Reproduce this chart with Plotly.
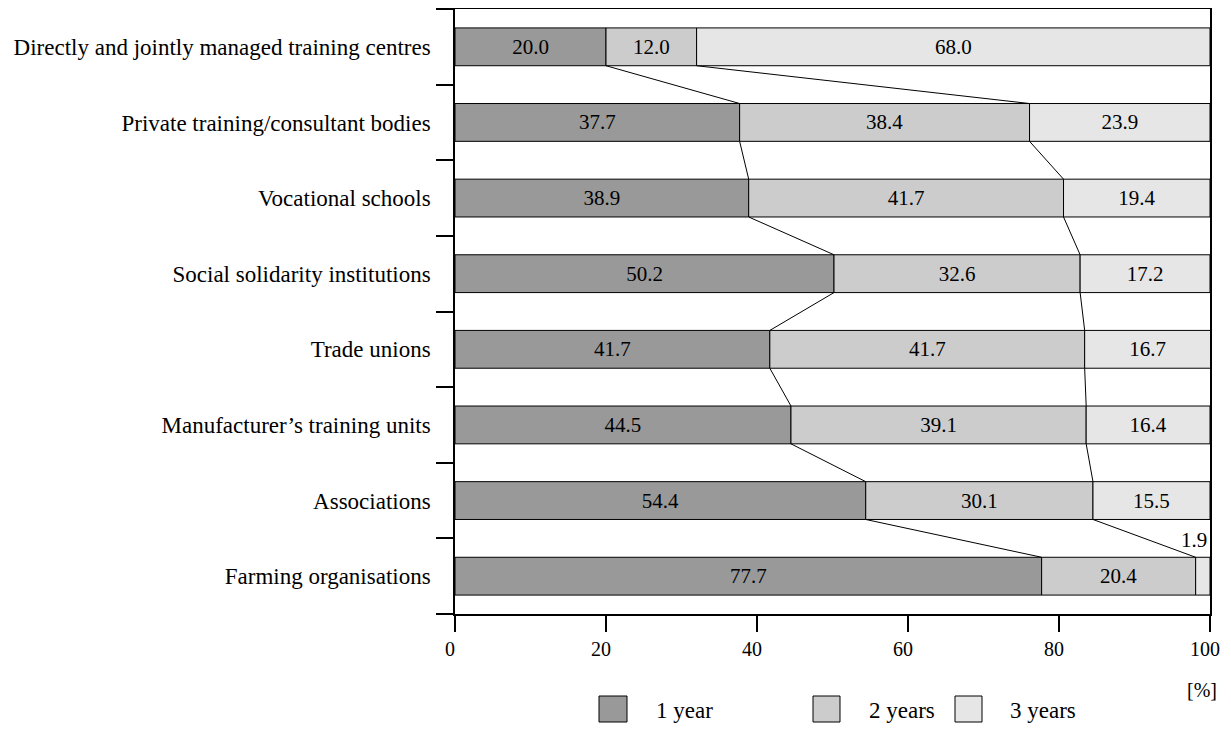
import plotly.graph_objects as go

categories = [
    "Directly and jointly managed training centres",
    "Private training/consultant bodies",
    "Vocational schools",
    "Social solidarity institutions",
    "Trade unions",
    "Manufacturer’s training units",
    "Associations",
    "Farming organisations",
]
one_year = [20.0, 37.7, 38.9, 50.2, 41.7, 44.5, 54.4, 77.7]
two_years = [12.0, 38.4, 41.7, 32.6, 41.7, 39.1, 30.1, 20.4]
three_years = [68.0, 23.9, 19.4, 17.2, 16.7, 16.4, 15.5, 1.9]
series_names = ["1 year", "2 years", "3 years"]
colors = ["#999999", "#cccccc", "#e6e6e6"]
x_ticks = [0, 20, 40, 60, 80, 100]

FONT = "'Liberation Serif', 'Times New Roman', 'DejaVu Serif', serif"
OFF = 8  # page body margin
W, H = 1231 - 2 * OFF, 731 - 2 * OFF   # avoid page scrollbars
PLOT_X0, PLOT_X1, PLOT_Y0, PLOT_Y1 = 455, 1210, 9, 614  # screen pixels
L, T = PLOT_X0 - OFF, PLOT_Y0 - OFF
R, B = W - (PLOT_X1 - OFF), H - (PLOT_Y1 - OFF)
PW, PH = W - L - R, H - T - B

def px(xs):
    return (xs - OFF - L) / PW

def py(ys):
    return (H - B - (ys - OFF)) / PH

pos = list(range(len(categories)))
bar_w = 0.5

fig = go.Figure()
series = [one_year, two_years, three_years]
base = [0.0] * len(categories)
for name, vals, col in zip(series_names, series, colors):
    txt = [f"{v:.1f}" if v >= 5 else "" for v in vals]
    fig.add_trace(go.Bar(
        x=vals, y=pos, base=list(base), orientation="h", width=bar_w,
        name=name, marker=dict(color=col, line=dict(color="black", width=1)),
        text=txt, textposition="inside", insidetextanchor="middle",
        textfont=dict(family=FONT, size=21, color="black"),
        textangle=0, constraintext="none", showlegend=False,
        hoverinfo="x+y",
    ))
    base = [b + v for b, v in zip(base, vals)]

# connector lines between consecutive bars (cumulative of series 1 and 2)
cum1 = list(one_year)
cum2 = [a + b for a, b in zip(one_year, two_years)]
for cum in (cum1, cum2):
    xs, ys = [], []
    for i in range(len(categories) - 1):
        xs += [cum[i], cum[i + 1], None]
        ys += [pos[i] + bar_w / 2, pos[i + 1] - bar_w / 2, None]
    fig.add_trace(go.Scatter(x=xs, y=ys, mode="lines",
                             line=dict(color="black", width=1),
                             showlegend=False, hoverinfo="skip"))

annotations = []
for i, v in enumerate(three_years):
    if v < 5:
        annotations.append(dict(x=100, y=pos[i] - bar_w / 2, xref="x", yref="y",
                                text=f"{v:.1f}", showarrow=False, xanchor="right",
                                yanchor="bottom", xshift=-1, yshift=3,
                                font=dict(family=FONT, size=21, color="black")))

annotations.append(dict(x=100, y=py(690), xref="x", yref="paper", text="[%]",
                        showarrow=False, xanchor="center", yanchor="middle", xshift=-8,
                        font=dict(family=FONT, size=20, color="black")))

shapes = []
legend_boxes = [(599, 627), (813, 840), (955, 982)]
legend_text_x = [654, 867, 1008]
for (x0, x1), tx, name, col in zip(legend_boxes, legend_text_x, series_names, colors):
    shapes.append(dict(type="rect", xref="paper", yref="paper",
                       x0=px(x0), x1=px(x1), y0=py(722), y1=py(696),
                       fillcolor=col, line=dict(color="black", width=1)))
    annotations.append(dict(x=px(tx), y=py(710), xref="paper", yref="paper",
                            text=name, showarrow=False, xanchor="left", yanchor="middle",
                            font=dict(family=FONT, size=23, color="black")))

fig.update_layout(
    width=W, height=H,
    margin=dict(l=L, r=R, t=T, b=B, pad=0, autoexpand=False),
    paper_bgcolor="white", plot_bgcolor="white",
    barmode="overlay",
    font=dict(family=FONT, size=20, color="black"),
    annotations=annotations, shapes=shapes,
    showlegend=False,
)
fig.update_xaxes(
    range=[0, 100], tickvals=x_ticks, ticktext=[str(t) for t in x_ticks],
    showgrid=False, zeroline=False, showline=True, linecolor="black", linewidth=1.5,
    mirror=True, ticks="outside", ticklen=16, tickwidth=1.5, tickcolor="black",
    tickfont=dict(family=FONT, size=20, color="black"),
    ticklabeloverflow="allow", automargin=False, ticklabelshift=-5,
)
fig.update_yaxes(
    range=[len(categories) - 0.5, -0.5], tickvals=pos, ticktext=categories,
    showgrid=False, zeroline=False, showline=True, linecolor="black", linewidth=1.5,
    mirror=True, ticks="outside", ticklen=18, tickcolor="rgba(0,0,0,0)",
    tickfont=dict(family=FONT, size=23, color="black"), automargin=False,
    minor=dict(tickvals=[p - 0.5 for p in pos] + [pos[-1] + 0.5], ticks="outside",
               ticklen=17, tickwidth=1.5, tickcolor="black", showgrid=False),
)

fig.write_html("out.html")
